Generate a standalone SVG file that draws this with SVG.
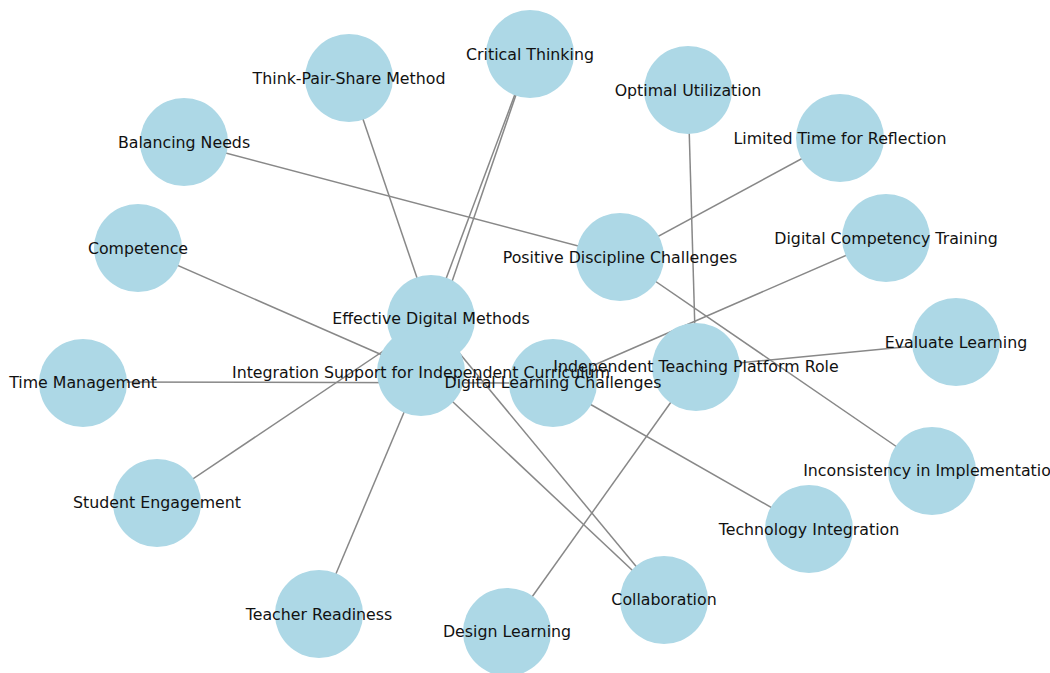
<svg xmlns="http://www.w3.org/2000/svg" width="1050" height="673" viewBox="0 0 1050 673">
<style>
.edge{stroke:#888888;stroke-width:1.5;fill:none}
.node{fill:#ADD8E6}
.label{font-family:"DejaVu Sans","Liberation Sans",sans-serif;font-size:15.8px;fill:#111111;text-anchor:middle}
</style>
<rect width="1050" height="673" fill="#ffffff"/>
<g id="edges">
<line class="edge" x1="184" y1="142" x2="620" y2="257"/>
<line class="edge" x1="840" y1="138" x2="620" y2="257"/>
<line class="edge" x1="620" y1="257" x2="932" y2="471"/>
<line class="edge" x1="688" y1="90" x2="696" y2="367"/>
<line class="edge" x1="956" y1="342" x2="696" y2="367"/>
<line class="edge" x1="507" y1="632" x2="696" y2="367"/>
<line class="edge" x1="886" y1="238" x2="553" y2="383"/>
<line class="edge" x1="553" y1="383" x2="809" y2="529"/>
<line class="edge" x1="83" y1="382" x2="553" y2="383"/>
<line class="edge" x1="530" y1="54" x2="431" y2="319"/>
<line class="edge" x1="530" y1="54" x2="421" y2="372"/>
<line class="edge" x1="349" y1="78" x2="431" y2="319"/>
<line class="edge" x1="157" y1="503" x2="431" y2="319"/>
<line class="edge" x1="431" y1="319" x2="664" y2="600"/>
<line class="edge" x1="138" y1="248" x2="421" y2="372"/>
<line class="edge" x1="319" y1="614" x2="421" y2="372"/>
<line class="edge" x1="421" y1="372" x2="664" y2="600"/>
</g>
<g id="nodes">
<g id="n-critical-thinking"><circle class="node" cx="530" cy="54" r="44"/></g>
<g id="n-think-pair-share"><circle class="node" cx="349" cy="78" r="44"/></g>
<g id="n-optimal-utilization"><circle class="node" cx="688" cy="90" r="44"/></g>
<g id="n-limited-time"><circle class="node" cx="840" cy="138" r="44"/></g>
<g id="n-balancing-needs"><circle class="node" cx="184" cy="142" r="44"/></g>
<g id="n-digital-competency-training"><circle class="node" cx="886" cy="238" r="44"/></g>
<g id="n-positive-discipline"><circle class="node" cx="620" cy="257" r="44"/></g>
<g id="n-competence"><circle class="node" cx="138" cy="248" r="44"/></g>
<g id="n-effective-digital-methods"><circle class="node" cx="431" cy="319" r="44"/></g>
<g id="n-integration-support"><circle class="node" cx="421" cy="372" r="44"/></g>
<g id="n-digital-learning-challenges"><circle class="node" cx="553" cy="383" r="44"/></g>
<g id="n-independent-teaching"><circle class="node" cx="696" cy="367" r="44"/></g>
<g id="n-evaluate-learning"><circle class="node" cx="956" cy="342" r="44"/></g>
<g id="n-time-management"><circle class="node" cx="83" cy="383" r="44"/></g>
<g id="n-inconsistency"><circle class="node" cx="932" cy="471" r="44"/></g>
<g id="n-student-engagement"><circle class="node" cx="157" cy="503" r="44"/></g>
<g id="n-technology-integration"><circle class="node" cx="809" cy="529" r="44"/></g>
<g id="n-teacher-readiness"><circle class="node" cx="319" cy="614" r="44"/></g>
<g id="n-collaboration"><circle class="node" cx="664" cy="600" r="44"/></g>
<g id="n-design-learning"><circle class="node" cx="507" cy="632" r="44"/></g>
</g>
<g id="labels">
<text class="label" id="t-critical-thinking" x="530" y="59.5">Critical Thinking</text>
<text class="label" id="t-think-pair-share" x="349" y="83.5">Think-Pair-Share Method</text>
<text class="label" id="t-optimal-utilization" x="688" y="95.5">Optimal Utilization</text>
<text class="label" id="t-limited-time" x="840" y="143.5">Limited Time for Reflection</text>
<text class="label" id="t-balancing-needs" x="184" y="147.5">Balancing Needs</text>
<text class="label" id="t-digital-competency-training" x="886" y="243.5">Digital Competency Training</text>
<text class="label" id="t-positive-discipline" x="620" y="262.5">Positive Discipline Challenges</text>
<text class="label" id="t-competence" x="138" y="253.5">Competence</text>
<text class="label" id="t-effective-digital-methods" x="431" y="323.5">Effective Digital Methods</text>
<text class="label" id="t-integration-support" x="421" y="377.5">Integration Support for Independent Curriculum</text>
<text class="label" id="t-digital-learning-challenges" x="553" y="388">Digital Learning Challenges</text>
<text class="label" id="t-independent-teaching" x="696" y="372">Independent Teaching Platform Role</text>
<text class="label" id="t-evaluate-learning" x="956" y="347.5">Evaluate Learning</text>
<text class="label" id="t-time-management" x="83" y="388">Time Management</text>
<text class="label" id="t-inconsistency" x="932" y="476">Inconsistency in Implementation</text>
<text class="label" id="t-student-engagement" x="157" y="508">Student Engagement</text>
<text class="label" id="t-technology-integration" x="809" y="534.5">Technology Integration</text>
<text class="label" id="t-teacher-readiness" x="319" y="619.5">Teacher Readiness</text>
<text class="label" id="t-collaboration" x="664" y="604.5">Collaboration</text>
<text class="label" id="t-design-learning" x="507" y="636.5">Design Learning</text>
</g>
</svg>
